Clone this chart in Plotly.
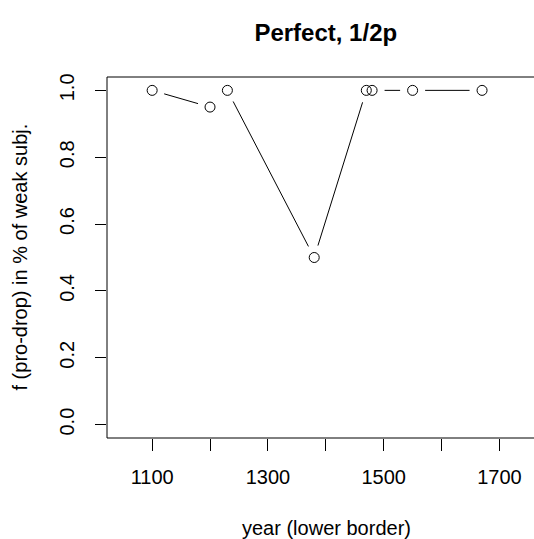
import math
import plotly.graph_objects as go

# Data: share of pro-drop in weak subjects by period (lower year border)
years = [1100, 1200, 1230, 1380, 1470, 1480, 1550, 1670]
share = [1.0, 0.95, 1.0, 0.5, 1.0, 1.0, 1.0, 1.0]
x_tick_vals = [1100, 1200, 1300, 1400, 1500, 1600, 1700]
x_tick_text = ["1100", "", "1300", "", "1500", "", "1700"]
y_tick_vals = [0.0, 0.2, 0.4, 0.6, 0.8, 1.0]
y_tick_text = ["0.0", "0.2", "0.4", "0.6", "0.8", "1.0"]

W, H = 534, 539
ML, MR, MT, MB = 107, 0, 77, 101
plot_w = W - ML - MR
plot_h = H - MT - MB

# axis limits like R's xlim=c(1050,1750), ylim=c(0,1) with 4% padding
x_lo = 1050 - 0.04 * 700
x_hi_full = 1750 + 0.04 * 700
px_per_year = 0.5788
x_hi = x_lo + plot_w / px_per_year
y_lo, y_hi = -0.04, 1.04
px_per_unit = plot_h / (y_hi - y_lo)

# connecting segments with gaps around each point (R type = "b")
gap = 12.5
seg_x, seg_y = [], []
for i in range(len(years) - 1):
    x1, y1 = years[i], share[i]
    x2, y2 = years[i + 1], share[i + 1]
    dxp = (x2 - x1) * px_per_year
    dyp = (y2 - y1) * px_per_unit
    d = math.hypot(dxp, dyp)
    if d <= 2 * gap:
        continue
    ux, uy = dxp / d, dyp / d
    seg_x += [x1 + gap * ux / px_per_year, x2 - gap * ux / px_per_year, None]
    seg_y += [y1 + gap * uy / px_per_unit, y2 - gap * uy / px_per_unit, None]

font_family = "Liberation Sans, Arial, Helvetica, sans-serif"

fig = go.Figure()
fig.add_trace(go.Scatter(
    x=seg_x, y=seg_y, mode="lines",
    line=dict(color="black", width=1),
    hoverinfo="skip", showlegend=False,
))
fig.add_trace(go.Scatter(
    x=years, y=share, mode="markers",
    marker=dict(symbol="circle-open", size=10, color="black",
                line=dict(color="black", width=1)),
    showlegend=False,
))

# open box: left, bottom and top frame lines (right edge lies past the page)
frame = dict(type="line", xref="paper", yref="paper",
             line=dict(color="black", width=1), layer="above")
shapes = [
    dict(frame, x0=0, x1=0, y0=0, y1=1),
    dict(frame, x0=0, x1=1, y0=0, y1=0),
    dict(frame, x0=0, x1=1, y0=1, y1=1),
]

fig.update_layout(
    width=W, height=H,
    margin=dict(l=ML, r=MR, t=MT, b=MB, pad=0),
    paper_bgcolor="white", plot_bgcolor="white",
    font=dict(family=font_family, size=20, color="black"),
    title=dict(
        text="<b>Perfect, 1/2p</b>",
        font=dict(family=font_family, size=24, color="black"),
        xref="container", yref="container",
        x=(ML + ML + (x_hi_full - x_lo) * px_per_year) / 2 / W,
        y=1 - 33 / H, xanchor="center", yanchor="middle",
    ),
    xaxis=dict(
        range=[x_lo, x_hi], showgrid=False, zeroline=False, showline=False,
        ticks="outside", ticklen=12, tickwidth=1, tickcolor="black",
        tickvals=x_tick_vals, ticktext=x_tick_text,
        ticklabelstandoff=9,
        tickfont=dict(family=font_family, size=20, color="black"),
    ),
    yaxis=dict(
        range=[y_lo, y_hi], showgrid=False, zeroline=False, showline=False,
        ticks="outside", ticklen=11, tickwidth=1, tickcolor="black",
        tickvals=y_tick_vals, ticktext=y_tick_text, tickangle=-90,
        ticklabelstandoff=13,
        tickfont=dict(family=font_family, size=20, color="black"),
    ),
    shapes=shapes,
    annotations=[
        dict(text="year (lower border)", xref="paper", yref="paper",
             x=(326 - ML) / plot_w, y=0, yshift=-90,
             xanchor="center", yanchor="middle", showarrow=False,
             font=dict(family=font_family, size=20, color="black")),
        dict(text="f (pro-drop) in % of weak subj.", xref="paper", yref="paper",
             x=0, y=0.5, xshift=-(ML - 19), textangle=-90,
             xanchor="center", yanchor="middle", showarrow=False,
             font=dict(family=font_family, size=20, color="black")),
    ],
)

fig.write_html("out.html")
